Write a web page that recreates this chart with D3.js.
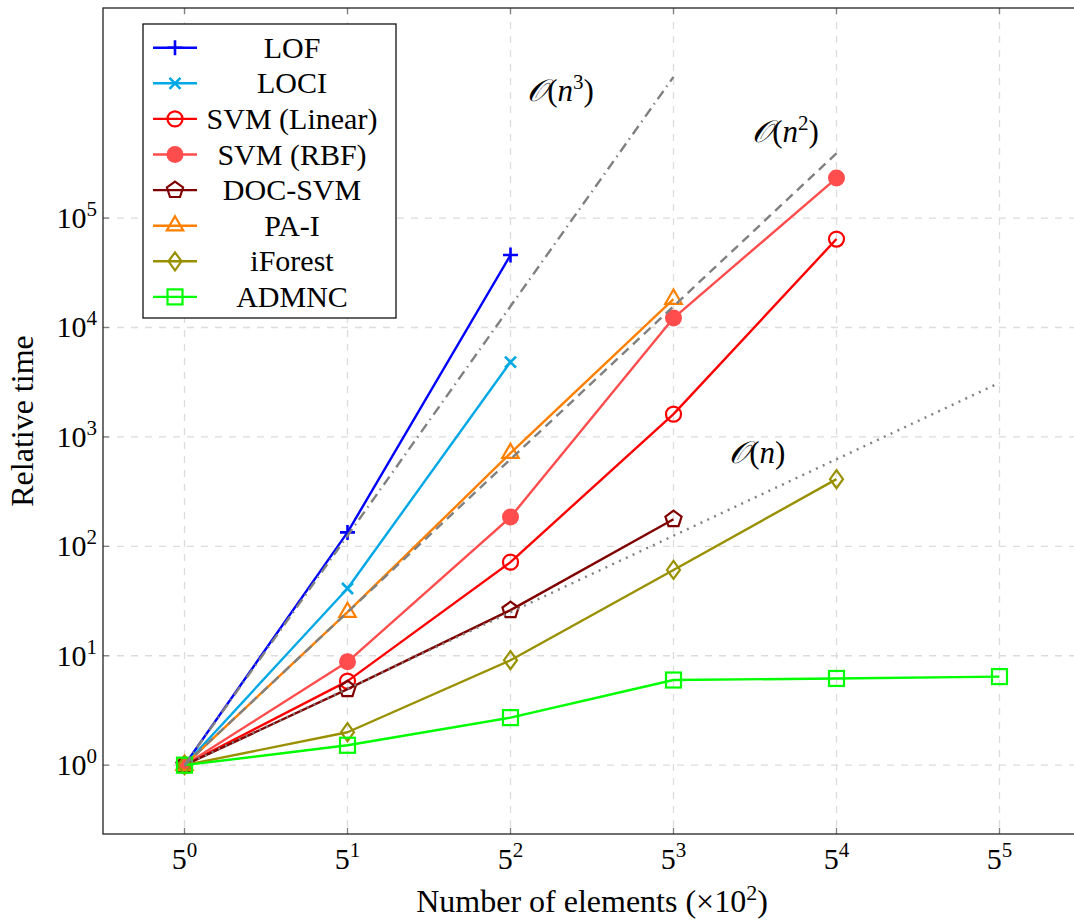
<!DOCTYPE html>
<html><head><meta charset="utf-8">
<script src="https://cdn.jsdelivr.net/npm/d3@7"></script>
<style>
html,body{margin:0;padding:0;background:#fff;}
svg text{font-family:"Liberation Serif","DejaVu Serif",serif;fill:#000;}
</style></head>
<body><svg id="c" width="1074" height="922"></svg>
<script>
// ---- data ----
const sizes = [1, 5, 25, 125, 625, 3125];           // number of elements (x100), 5^0..5^5
const xTickExp = [0, 1, 2, 3, 4, 5];
const yTickExp = [0, 1, 2, 3, 4, 5];
const seriesNames = ["LOF","LOCI","SVM (Linear)","SVM (RBF)","DOC-SVM","PA-I","iForest","ADMNC"];
const lofVals     = [1, 134, 45900];
const lociVals    = [1, 41.2, 4830];
const svmLinVals  = [1, 5.86, 71.7, 1615, 64300];
const svmRbfVals  = [1, 8.8, 185, 12200, 232000];
const docSvmVals  = [1, 4.95, 26.1, 177];
const paVals      = [1, 25, 710, 18200];
const iforestVals = [1, 2.0, 9.1, 60.8, 411];
const admncVals   = [1, 1.52, 2.72, 6.0, 6.2, 6.45];
const refLinear   = [1, 5, 25, 125, 625, 3125];
const refQuad     = [1, 25, 625, 15625, 390625];
const refCubic    = [1, 125, 15625, 1953125];
const refLabels   = ["3", "2", ""];
const refLabelPos = [[41, 1.17e6], [378, 4.95e5], [286, 575]];

// ---- styling ----
const colors  = ["#0000ff","#00a8e6","#ff0000","#ff4d4d","#800000","#ff8000","#999000","#00ff00"];
const markers = ["plus","cross","circle","dot","pentagon","triangle","diamond","square"];
const values  = [lofVals,lociVals,svmLinVals,svmRbfVals,docSvmVals,paVals,iforestVals,admncVals];

const svg = d3.select("#c");
const L = 103, R = 1081, T = 8, B = 834;
const ylo = -0.1 * Math.log10(1953125), yhi = Math.log10(1953125) * 1.1;
const x = d3.scaleLog().base(5).domain([Math.pow(5,-0.5), Math.pow(5,5.5)]).range([L, R]);
const y = d3.scaleLog().domain([Math.pow(10, ylo), Math.pow(10, yhi)]).range([B, T]);

const defs = svg.append("defs");
defs.append("clipPath").attr("id","clip").append("rect").attr("x",L).attr("y",T).attr("width",R-L).attr("height",B-T);

// grid
const grid = svg.append("g");
xTickExp.forEach(e => grid.append("line").attr("x1",x(Math.pow(5,e))).attr("x2",x(Math.pow(5,e)))
  .attr("y1",T).attr("y2",B).attr("stroke","#dcdcdc").attr("stroke-width",1.3).attr("stroke-dasharray","7,7"));
yTickExp.forEach(e => grid.append("line").attr("y1",y(Math.pow(10,e))).attr("y2",y(Math.pow(10,e)))
  .attr("x1",L).attr("x2",R).attr("stroke","#dcdcdc").attr("stroke-width",1.3).attr("stroke-dasharray","7,7"));

// ticks (inside, all four sides)
const tk = svg.append("g").attr("stroke","#808080").attr("stroke-width",1.3);
xTickExp.forEach(e => { const xx = x(Math.pow(5,e));
  tk.append("line").attr("x1",xx).attr("x2",xx).attr("y1",B).attr("y2",B-6);
  tk.append("line").attr("x1",xx).attr("x2",xx).attr("y1",T).attr("y2",T+6); });
yTickExp.forEach(e => { const yy = y(Math.pow(10,e));
  tk.append("line").attr("y1",yy).attr("y2",yy).attr("x1",L).attr("x2",L+6);
  tk.append("line").attr("y1",yy).attr("y2",yy).attr("x1",R).attr("x2",R-6); });

// tick labels
xTickExp.forEach(e => {
  const t = svg.append("text").attr("x", x(Math.pow(5,e))).attr("y", 869).attr("text-anchor","middle").style("font-size","30px");
  t.append("tspan").text("5");
  t.append("tspan").attr("dy",-12).style("font-size","21px").text(e);
});
yTickExp.forEach(e => {
  const t = svg.append("text").attr("x", 97).attr("y", y(Math.pow(10,e)) + 10).attr("text-anchor","end").style("font-size","30px");
  t.append("tspan").text("10");
  t.append("tspan").attr("dy",-12).style("font-size","21px").text(e);
});

// axis titles
const xt = svg.append("text").attr("x",(L+R)/2).attr("y",912).attr("text-anchor","middle").style("font-size","32px");
xt.append("tspan").text("Number of elements (×10");
xt.append("tspan").attr("dy",-12).style("font-size","22px").text("2");
xt.append("tspan").attr("dy",12).text(")");
svg.append("text").attr("transform",`translate(33,${(T+B)/2}) rotate(-90)`).attr("text-anchor","middle")
  .style("font-size","32px").text("Relative time");

// marker drawing
function drawMarker(g, type, cx, cy, color) {
  const sw = 2.2;
  if (type === "plus") {
    g.append("path").attr("d",`M${cx-7.5},${cy}H${cx+7.5}M${cx},${cy-7.5}V${cy+7.5}`).attr("stroke",color).attr("stroke-width",2.6).attr("fill","none");
  } else if (type === "cross") {
    g.append("path").attr("d",`M${cx-5.5},${cy-5.5}L${cx+5.5},${cy+5.5}M${cx-5.5},${cy+5.5}L${cx+5.5},${cy-5.5}`).attr("stroke",color).attr("stroke-width",2.6).attr("fill","none");
  } else if (type === "circle") {
    g.append("circle").attr("cx",cx).attr("cy",cy).attr("r",7.5).attr("stroke",color).attr("stroke-width",sw).attr("fill","none");
  } else if (type === "dot") {
    g.append("circle").attr("cx",cx).attr("cy",cy).attr("r",8.5).attr("fill",color);
  } else if (type === "pentagon") {
    const pts = d3.range(5).map(i => { const a = -Math.PI/2 + i*2*Math.PI/5; return [cx+8.5*Math.cos(a), cy+8.5*Math.sin(a)]; });
    g.append("polygon").attr("points",pts.map(p=>p.join(",")).join(" ")).attr("stroke",color).attr("stroke-width",sw).attr("fill","none");
  } else if (type === "triangle") {
    const pts = d3.range(3).map(i => { const a = -Math.PI/2 + i*2*Math.PI/3; return [cx+9.5*Math.cos(a), cy+9.5*Math.sin(a)]; });
    g.append("polygon").attr("points",pts.map(p=>p.join(",")).join(" ")).attr("stroke",color).attr("stroke-width",sw).attr("fill","none");
  } else if (type === "diamond") {
    g.append("polygon").attr("points",`${cx},${cy-9} ${cx+6.5},${cy} ${cx},${cy+9} ${cx-6.5},${cy}`).attr("stroke",color).attr("stroke-width",sw).attr("fill","none");
  } else if (type === "square") {
    g.append("rect").attr("x",cx-7.5).attr("y",cy-7.5).attr("width",15).attr("height",15).attr("stroke",color).attr("stroke-width",sw).attr("fill","none");
  }
}

const plot = svg.append("g").attr("clip-path","url(#clip)");
const line = d3.line().x(d => x(d[0])).y(d => y(d[1]));

// series
values.forEach((vals, i) => {
  const pts = vals.map((v, j) => [sizes[j], v]);
  const g = plot.append("g");
  g.append("path").attr("d", line(pts)).attr("fill","none").attr("stroke",colors[i]).attr("stroke-width",2.4).attr("stroke-linejoin","round");
  pts.forEach(p => drawMarker(g, markers[i], x(p[0]), y(p[1]), colors[i]));
});

// reference lines
const refs = [
  {vals: refCubic, dash: "10,5,1.5,5"},
  {vals: refQuad,  dash: "9,6"},
  {vals: refLinear, dash: "2,5.5"}
];
refs.forEach(r => {
  const pts = r.vals.map((v, j) => [sizes[j], v]);
  plot.append("path").attr("d", line(pts)).attr("fill","none").attr("stroke","#808080")
    .attr("stroke-width",2.4).attr("stroke-dasharray",r.dash);
});

// reference labels
refLabelPos.forEach((p, i) => {
  const t = svg.append("text").attr("x", x(p[0])).attr("y", y(p[1])).attr("text-anchor","middle").style("font-size","31px");
  t.append("tspan").style("font-style","italic").text("𝒪");
  t.append("tspan").text("(");
  t.append("tspan").style("font-style","italic").text("n");
  if (refLabels[i]) t.append("tspan").attr("dy",-12).style("font-size","21px").text(refLabels[i]);
  t.append("tspan").attr("dy", refLabels[i] ? 12 : 0).text(")");
});

// frame
svg.append("rect").attr("x",L).attr("y",T).attr("width",R-L).attr("height",B-T).attr("fill","none").attr("stroke","#222").attr("stroke-width",1.3);

// legend
const lg = svg.append("g");
lg.append("rect").attr("x",143).attr("y",24).attr("width",253).attr("height",294).attr("fill","#fff").attr("stroke","#111").attr("stroke-width",1.3);
seriesNames.forEach((name, i) => {
  const cy = 47.7 + 35.6 * i;
  lg.append("line").attr("x1",153).attr("x2",197).attr("y1",cy).attr("y2",cy).attr("stroke",colors[i]).attr("stroke-width",2.4);
  drawMarker(lg, markers[i], 175, cy, colors[i]);
  lg.append("text").attr("x",292).attr("y",cy+10).attr("text-anchor","middle").style("font-size","30px").text(name);
});
</script></body></html>
